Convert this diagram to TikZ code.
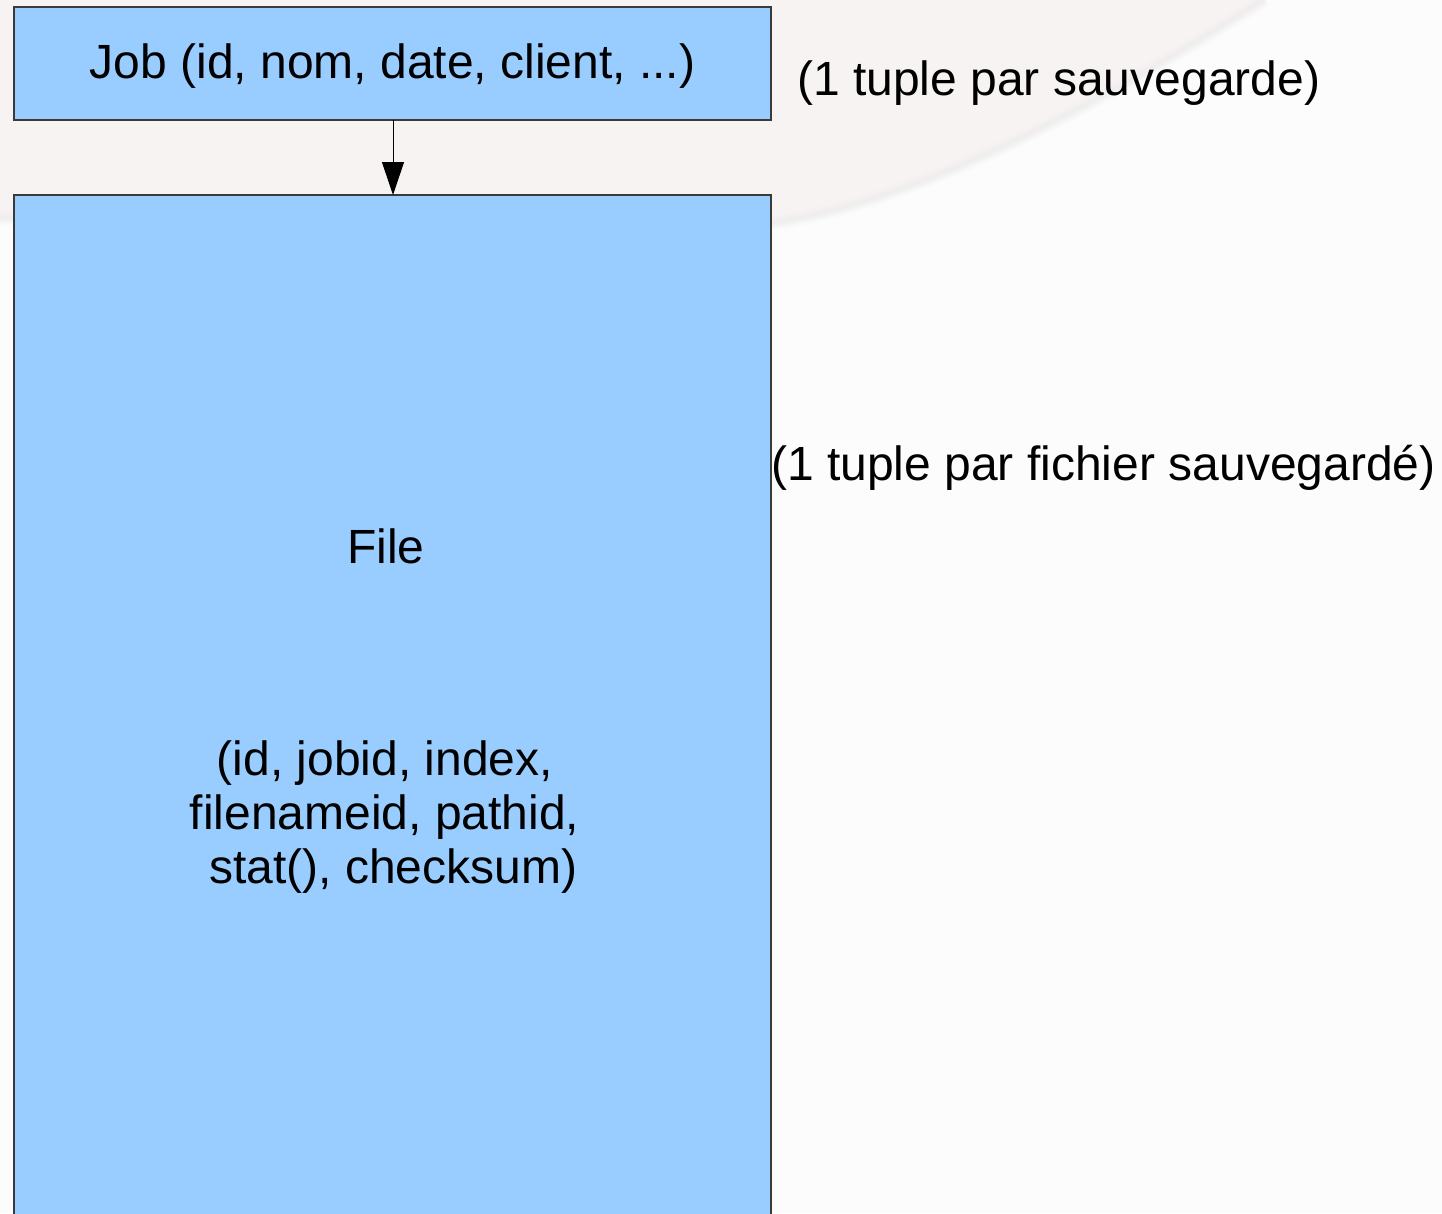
\documentclass[tikz,border=0pt]{standalone}
\usepackage{fontspec}
\setmainfont{Liberation Sans}
\usetikzlibrary{arrows.meta}
\definecolor{tablefill}{HTML}{99CCFF}
\definecolor{tableline}{HTML}{3A3A3A}
\definecolor{pagebg}{HTML}{FCFCFC}
\definecolor{pinkbg}{HTML}{F8F3F3}
\definecolor{streak}{HTML}{EBEBEB}
\tikzset{
  table/.style={draw=tableline, fill=tablefill, line width=1.2pt},
  txt/.style={inner sep=0pt, anchor=base, font=\fontsize{48}{54}\selectfont},
  link/.style={draw=black, line width=1pt, -{Triangle[length=33pt,width=22pt]}}
}
\begin{document}
\begin{tikzpicture}[x=1pt,y=-1pt]
  % page and background swoosh
  \clip (0,0) rectangle (1442,1213);
  \fill[pagebg] (0,0) rectangle (1442,1213);
  \fill[pinkbg] (0,0) -- (1265,0) .. controls (1060,130) and (900,205) .. (770,224)
    .. controls (500,245) and (200,225) .. (0,218) -- cycle;
  \foreach \w/\o in {14/0.15, 9/0.25, 5/0.4}
    \draw[streak, line width=\w pt, opacity=\o] (1265,0) .. controls (1060,130) and (900,205) .. (770,224)
      .. controls (500,245) and (200,225) .. (0,218);

  % tables
  \path[table] (14,7) rectangle (771,120);
  \coordinate (jobbot) at (393,120);
  \node[txt] (job) at (392.5,78) {Job (id, nom, date, client, ...)};

  \path[table] (14,195) rectangle (771,1240);
  \coordinate (filetop) at (393,195);
  \node[txt] (file) at (386,563) {File};
  \node[txt] (f1) at (385,775) {(id, jobid, index,};
  \node[txt] (f2) at (384.5,829) {filenameid, pathid,};
  \node[txt] (f3) at (386.5,883) {\ stat(), checksum)};

  % relation
  \draw[link] (jobbot) -- (filetop);

  % annotations
  \node[txt, anchor=base west] (n1) at (797,95) {(1 tuple par sauvegarde)};
  \node[txt, anchor=base west] (n2) at (771,480) {(1 tuple par fichier sauvegardé)};
\end{tikzpicture}
\end{document}
